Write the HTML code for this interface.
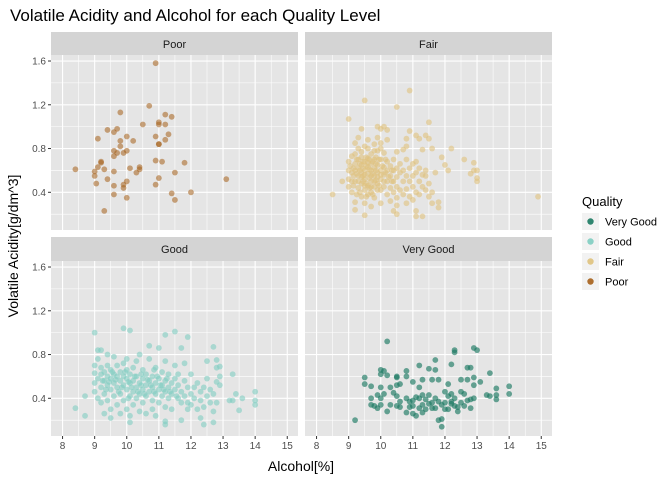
<!DOCTYPE html>
<html><head><meta charset="utf-8"><style>
body{margin:0;background:#fff;}
svg text{font-family:"Liberation Sans",sans-serif;}
</style></head><body>
<svg id="chart" width="672" height="480" viewBox="0 0 672 480" xmlns="http://www.w3.org/2000/svg">
<text x="10" y="21" font-size="17" fill="#000">Volatile Acidity and Alcohol for each Quality Level</text>
<text x="301" y="471" font-size="14" text-anchor="middle" fill="#000">Alcohol[%]</text>
<text transform="translate(18,246) rotate(-90)" font-size="14" text-anchor="middle" fill="#000">Volatile Acidity[g/dm^3]</text>
<g id="panels"></g>
<g id="legend"></g>
</svg>
<script>
const xTicks=[8,9,10,11,12,13,14,15];
const yTicks=[0.4,0.8,1.2,1.6];
const yTickLabels=["0.4","0.8","1.2","1.6"];
const facetNames=["Poor","Fair","Good","Very Good"];
const legendLabels=["Very Good","Good","Fair","Poor"];
const poorPoints=[[8.4,0.61],[10.9,1.58],[10.7,1.19],[9.8,1.13],[11.2,1.11],[11.4,1.09],[11.0,1.04],[11.0,1.02],[11.2,1.02],[10.5,1.02],[9.4,0.97],[9.7,0.98],[9.6,0.95],[9.1,0.89],[10.0,0.91],[10.9,0.91],[11.3,0.93],[11.2,0.88],[10.2,0.87],[9.8,0.87],[9.8,0.82],[11.0,0.84],[9.6,0.78],[10.0,0.78],[9.7,0.76],[9.9,0.76],[9.6,0.73],[9.2,0.68],[9.1,0.63],[9.3,0.61],[10.1,0.62],[10.4,0.63],[10.4,0.61],[10.3,0.58],[10.9,0.69],[11.1,0.68],[11.8,0.67],[9.0,0.59],[9.0,0.55],[9.6,0.59],[11.5,0.58],[9.4,0.52],[11.0,0.53],[13.1,0.52],[9.05,0.48],[9.6,0.46],[10.0,0.5],[9.9,0.47],[9.9,0.44],[10.9,0.47],[11.4,0.39],[12.0,0.4],[9.6,0.38],[10.0,0.35],[11.5,0.33],[9.3,0.23],[9.2,0.67],[11.0,0.84]];
const fairPoints=[[10.9,1.33],[9.5,1.24],[10.5,1.18],[9.0,1.07],[11.5,1.04],[9.9,1.0],[10.1,1.0],[10.0,0.98],[10.2,0.97],[10.9,0.96],[11.1,0.92],[11.4,0.92],[11.2,0.89],[11.5,0.89],[10.8,0.89],[10.8,0.82],[10.7,0.79],[10.5,0.77],[11.6,0.8],[12.2,0.8],[11.3,0.79],[11.9,0.72],[12.6,0.7],[12.9,0.67],[12.0,0.65],[12.1,0.6],[12.9,0.6],[13.0,0.6],[12.8,0.57],[13.0,0.53],[13.0,0.5],[11.7,0.58],[11.4,0.6],[11.4,0.55],[8.8,0.5],[8.5,0.38],[14.9,0.36],[11.8,0.31],[11.8,0.26],[11.1,0.23],[11.3,0.18],[11.1,0.18],[10.5,0.2],[10.4,0.23],[9.5,0.19],[9.2,0.24],
[9.0,0.6],[9.0,0.68],[9.0,0.52],[9.0,0.45],[9.1,0.73],[9.1,0.58],[9.1,0.4],[9.2,0.66],[9.2,0.5],[9.2,0.85],[9.2,0.31],[9.3,0.62],[9.3,0.7],[9.3,0.55],[9.3,0.44],[9.3,0.9],[9.4,0.58],[9.4,0.65],[9.4,0.77],[9.4,0.48],[9.4,0.36],[9.4,0.98],[9.5,0.6],[9.5,0.68],[9.5,0.52],[9.5,0.42],[9.5,0.82],[9.5,0.3],[9.6,0.63],[9.6,0.57],[9.6,0.71],[9.6,0.46],[9.6,0.88],[9.6,0.38],[9.7,0.6],[9.7,0.66],[9.7,0.5],[9.7,0.75],[9.7,0.4],[9.7,0.27],[9.8,0.62],[9.8,0.55],[9.8,0.7],[9.8,0.84],[9.8,0.45],[9.8,0.35],[9.9,0.58],[9.9,0.65],[9.9,0.78],[9.9,0.48],[9.9,0.9],[10.0,0.6],[10.0,0.7],[10.0,0.52],[10.0,0.42],[10.0,0.85],[10.0,0.3],[10.1,0.63],[10.1,0.56],[10.1,0.76],[10.1,0.45],[10.2,0.6],[10.2,0.68],[10.2,0.5],[10.2,0.38],[10.2,0.88],[10.3,0.64],[10.3,0.55],[10.3,0.44],[10.3,0.32],[10.4,0.6],[10.4,0.7],[10.4,0.5],[10.4,0.4],[10.5,0.62],[10.5,0.54],[10.5,0.45],[10.5,0.35],[10.5,0.28],[10.6,0.58],[10.6,0.66],[10.6,0.42],[10.7,0.6],[10.7,0.5],[10.7,0.38],[10.8,0.7],[10.8,0.55],[10.8,0.43],[10.8,0.3],[10.9,0.62],[10.9,0.5],[10.9,0.36],[11.0,0.66],[11.0,0.55],[11.0,0.45],[11.0,0.33],[11.1,0.68],[11.1,0.58],[11.1,0.4],[11.2,0.62],[11.2,0.5],[11.2,0.38],[11.3,0.56],[11.3,0.45],[11.4,0.42],[11.5,0.48],[11.5,0.36],[11.6,0.4],[11.6,0.3],[9.15,0.62],[9.35,0.6],[9.45,0.55],[9.55,0.64],[9.65,0.61],[9.75,0.57],[9.85,0.66],[9.25,0.57],[9.55,0.72],[9.45,0.5],[9.65,0.53],[9.85,0.51],
[9.1,0.5],[9.15,0.55],[9.2,0.6],[9.25,0.7],[9.3,0.5],[9.35,0.66],[9.4,0.54],[9.45,0.62],[9.5,0.56],[9.55,0.48],[9.6,0.67],[9.65,0.44],[9.7,0.55],[9.75,0.68],[9.8,0.5],[9.85,0.6],[9.9,0.54],[9.95,0.7],[10.0,0.56],[10.05,0.64],[10.1,0.5],[10.15,0.58],[10.25,0.54],[10.35,0.6],[9.2,0.75],[9.4,0.72],[9.6,0.8],[9.8,0.78],[10.0,0.8],[9.3,0.8],[9.5,0.46],[9.7,0.45],[9.9,0.42],[9.35,0.4],[9.55,0.36],[9.75,0.38],[9.15,0.46],[9.25,0.38],[10.15,0.7],[10.35,0.5],[9.45,0.68],[9.65,0.7],[9.85,0.72],[9.05,0.64],[9.95,0.46]];
const goodPoints=[[8.4,0.31],[8.7,0.24],[8.7,0.42],[9.0,1.0],[9.9,1.04],[10.1,1.02],[11.2,0.98],[11.5,1.01],[11.9,0.96],[9.1,0.84],[9.2,0.84],[11.7,0.86],[12.7,0.87],[12.8,0.75],[12.8,0.68],[12.9,0.69],[12.9,0.6],[12.9,0.52],[13.3,0.62],[13.2,0.38],[13.3,0.38],[13.4,0.44],[13.6,0.4],[13.5,0.29],[14.0,0.46],[14.0,0.38],[14.0,0.34],[11.2,0.19],[11.2,0.16],[10.1,0.18],[12.4,0.16],[12.7,0.18],[12.3,0.22],
[9.0,0.63],[9.0,0.54],[9.0,0.46],[9.0,0.7],[9.1,0.58],[9.1,0.76],[9.1,0.4],[9.2,0.62],[9.2,0.5],[9.2,0.68],[9.2,0.36],[9.3,0.56],[9.3,0.64],[9.3,0.44],[9.3,0.26],[9.4,0.6],[9.4,0.52],[9.4,0.7],[9.4,0.38],[9.4,0.8],[9.5,0.58],[9.5,0.48],[9.5,0.66],[9.5,0.3],[9.5,0.22],[9.6,0.62],[9.6,0.54],[9.6,0.42],[9.6,0.78],[9.7,0.6],[9.7,0.5],[9.7,0.34],[9.7,0.7],[9.8,0.56],[9.8,0.64],[9.8,0.44],[9.8,0.26],[9.9,0.6],[9.9,0.52],[9.9,0.72],[9.9,0.38],[10.0,0.58],[10.0,0.48],[10.0,0.66],[10.0,0.3],[10.0,0.76],[10.1,0.62],[10.1,0.54],[10.1,0.42],[10.1,0.24],[10.2,0.56],[10.2,0.46],[10.2,0.68],[10.2,0.34],[10.3,0.6],[10.3,0.5],[10.3,0.4],[10.3,0.74],[10.4,0.54],[10.4,0.44],[10.4,0.28],[10.4,0.8],[10.5,0.58],[10.5,0.48],[10.5,0.36],[10.5,0.66],[10.6,0.52],[10.6,0.42],[10.6,0.62],[10.6,0.26],[10.7,0.56],[10.7,0.46],[10.7,0.76],[10.7,0.88],[10.8,0.6],[10.8,0.5],[10.8,0.38],[10.8,0.3],[10.9,0.54],[10.9,0.44],[10.9,0.68],[10.9,0.24],[11.0,0.58],[11.0,0.48],[11.0,0.36],[11.0,0.86],[11.1,0.52],[11.1,0.42],[11.1,0.64],[11.2,0.56],[11.2,0.46],[11.2,0.32],[11.2,0.74],[11.3,0.5],[11.3,0.4],[11.3,0.62],[11.4,0.54],[11.4,0.44],[11.4,0.3],[11.5,0.58],[11.5,0.48],[11.5,0.7],[11.6,0.52],[11.6,0.4],[11.6,0.62],[11.7,0.46],[11.7,0.36],[11.7,0.2],[11.8,0.56],[11.8,0.42],[11.8,0.72],[11.9,0.5],[11.9,0.36],[11.9,0.3],[12.0,0.44],[12.0,0.34],[12.0,0.62],[12.1,0.5],[12.1,0.4],[12.2,0.54],[12.2,0.3],[12.3,0.46],[12.3,0.38],[12.4,0.5],[12.4,0.32],[12.5,0.74],[12.5,0.58],[12.5,0.42],[12.6,0.36],[12.6,0.48],[12.7,0.28],[12.7,0.44],[12.8,0.36],[12.8,0.55],
[9.45,0.55],[9.65,0.57],[9.85,0.5],[10.05,0.55],[10.25,0.6],[10.45,0.52],[10.65,0.57],[10.85,0.46],[11.05,0.52],[9.55,0.64],[9.75,0.46],[9.95,0.64],[10.15,0.5],[10.35,0.46],[10.55,0.44],[10.75,0.52],[10.95,0.6],[11.15,0.48],[11.35,0.46],[11.55,0.42],[9.35,0.48],[9.25,0.56],[10.05,0.4],[10.45,0.62],[10.85,0.66],[11.25,0.58]];
const veryGoodPoints=[[9.2,0.2],[10.2,0.92],[12.3,0.84],[12.3,0.82],[12.9,0.86],[13.0,0.84],[11.7,0.75],[11.2,0.7],[12.2,0.71],[12.7,0.68],[12.8,0.68],[13.4,0.63],[10.0,0.66],[10.1,0.65],[10.0,0.62],[10.2,0.61],[10.8,0.65],[10.8,0.6],[10.5,0.6],[10.5,0.59],[10.6,0.53],[9.5,0.59],[9.5,0.53],[9.7,0.51],[11.5,0.67],[11.7,0.66],[11.3,0.57],[11.6,0.57],[11.8,0.57],[11.0,0.55],[12.1,0.53],[12.5,0.57],[12.7,0.57],[12.9,0.59],[13.1,0.55],[12.9,0.52],[10.0,0.5],[11.2,0.5],[10.5,0.52],[14.0,0.51],[14.0,0.44],[13.6,0.49],[13.6,0.43],[13.6,0.39],[13.3,0.43],[13.4,0.42],[9.7,0.4],[9.9,0.43],[10.0,0.4],[10.1,0.44],[9.8,0.33],[9.9,0.31],[10.0,0.34],[10.2,0.28],[10.3,0.34],[10.4,0.45],[10.5,0.42],[10.6,0.37],[10.5,0.33],[10.6,0.32],[10.8,0.4],[10.9,0.37],[10.8,0.27],[11.0,0.26],[11.1,0.24],[11.2,0.4],[11.3,0.34],[11.4,0.39],[11.2,0.31],[11.3,0.27],[11.5,0.43],[11.6,0.36],[11.7,0.4],[11.7,0.31],[11.8,0.2],[11.9,0.21],[11.9,0.14],[12.0,0.46],[12.1,0.42],[12.0,0.36],[12.2,0.35],[12.1,0.3],[12.3,0.4],[12.4,0.32],[12.5,0.36],[12.4,0.28],[12.6,0.44],[12.7,0.38],[12.8,0.39],[12.8,0.31],[12.9,0.4],[11.0,0.38],[11.1,0.41],[11.3,0.43],[11.6,0.31],[11.8,0.37],[12.0,0.3],[12.2,0.44],[12.5,0.46],[10.3,0.5],[9.7,0.34],[11.0,0.33],[11.5,0.35],[11.9,0.34],[12.3,0.33],[12.6,0.33],[10.9,0.32],[11.4,0.3],[12.2,0.37]];

const NS="http://www.w3.org/2000/svg";
const panelW=247, panelH=175;
const panels=[
 {name:"Poor",pts:poorPoints,col:"#a6611a",op:0.55,left:51,top:55,strip:32,xl:false,yl:true},
 {name:"Fair",pts:fairPoints,col:"#dfc27d",op:0.6,left:305,top:55,strip:32,xl:false,yl:false},
 {name:"Good",pts:goodPoints,col:"#80cdc1",op:0.6,left:51,top:261,strip:237,xl:true,yl:true},
 {name:"Very Good",pts:veryGoodPoints,col:"#1b7a62",op:0.65,left:305,top:261,strip:237,xl:true,yl:false}
];
const X0=7.64, XS=32.1, Y0=1.655, YS=109.4;
function mk(tag,attrs,parent){const e=document.createElementNS(NS,tag);for(const k in attrs)e.setAttribute(k,attrs[k]);parent.appendChild(e);return e;}
const root=document.getElementById('panels');
panels.forEach(p=>{
 const sx=v=>p.left+(v-X0)*XS, sy=v=>p.top+(Y0-v)*YS;
 const g=mk('g',{},root);
 
 
 const st=mk('rect',{x:p.left,y:p.strip,width:panelW,height:p.top-p.strip,fill:'#d4d4d4'},g);
 
 
 const stt=mk('text',{x:p.left+panelW/2,y:p.strip+16,'font-size':11,'text-anchor':'middle',fill:'#1a1a1a'},g);
 stt.textContent=p.name;
 
 
 const bg=mk('rect',{x:p.left,y:p.top,width:panelW,height:panelH,fill:'#e5e5e5'},g);
 
 
 for(let v=7.5;v<=15.3;v+=0.5){const X=sx(v);if(X<p.left||X>p.left+panelW)continue;const major=Math.abs(v-Math.round(v))<1e-6;mk('line',{x1:X,x2:X,y1:p.top,y2:p.top+panelH,stroke:'#fff','stroke-width':major?1.1:0.55},g);}
 [0.2,0.4,0.6,0.8,1.0,1.2,1.4,1.6].forEach((v,i)=>{const Y=sy(v);mk('line',{x1:p.left,x2:p.left+panelW,y1:Y,y2:Y,stroke:'#fff','stroke-width':i%2?1.1:0.55},g);});
 p.pts.forEach(d=>{const c=mk('circle',{cx:sx(d[0]),cy:sy(d[1]),r:2.9,fill:p.col,'fill-opacity':p.op},g);
  
  });
 if(p.yl){yTicks.forEach((v,i)=>{const Y=sy(v);mk('line',{x1:p.left-3,x2:p.left,y1:Y,y2:Y,stroke:'#333'},g);
  const t=mk('text',{x:p.left-5,y:Y+3.5,'font-size':10,'text-anchor':'end',fill:'#4d4d4d'},g);t.textContent=yTickLabels[i];
  
  });}
 if(p.xl){xTicks.forEach(v=>{const X=sx(v);mk('line',{x1:X,x2:X,y1:p.top+panelH,y2:p.top+panelH+3,stroke:'#333'},g);
  const t=mk('text',{x:X,y:p.top+panelH+13,'font-size':10,'text-anchor':'middle',fill:'#4d4d4d'},g);t.textContent=String(v);
  
  });}
});
const lg=document.getElementById('legend');
const lt=mk('text',{x:582,y:206,'font-size':13,fill:'#000'},lg);lt.textContent="Quality";


const lcols=["#1b7a62","#80cdc1","#dfc27d","#a6611a"];
legendLabels.forEach((l,i)=>{const y=213+i*20;
 const e=mk('g',{},lg);
 
 
 mk('rect',{x:582,y:y,width:17,height:17,fill:'#f2f2f2'},e);
 mk('circle',{cx:590.5,cy:y+8.5,r:3.2,fill:lcols[i],'fill-opacity':0.9},e);
 const t=mk('text',{x:605,y:y+12.5,'font-size':11,fill:'#000'},e);t.textContent=l;});
</script>
</body></html>
